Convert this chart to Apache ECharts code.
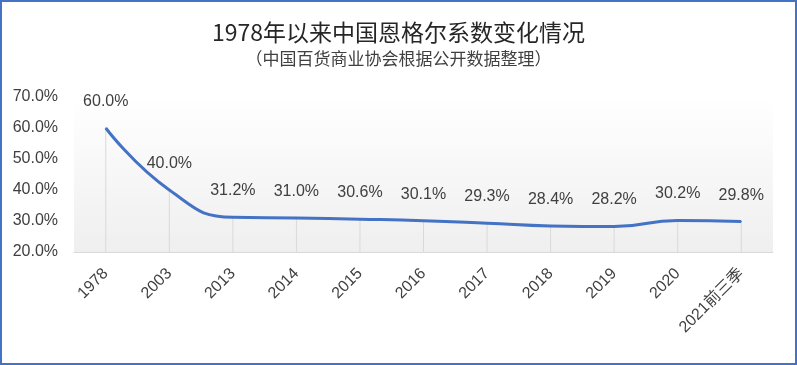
<!DOCTYPE html>
<html><head><meta charset="utf-8">
<script src="https://cdn.jsdelivr.net/npm/echarts@6/dist/echarts.min.js"></script>
<style>html,body{margin:0;padding:0;background:#fff}#c{width:797px;height:365px}</style>
</head><body><div id="c"></div>
<script>
const categories = ['1978','2003','2013','2014','2015','2016','2017','2018','2019','2020','2021前三季'];
const values = [0.600,0.400,0.312,0.310,0.306,0.301,0.293,0.284,0.282,0.302,0.298];
const titleText = '1978年以来中国恩格尔系数变化情况';
const subtitleText = '（中国百货商业协会根据公开数据整理）';
const yMin = 0.2, yMax = 0.7, yStep = 0.1;

const FONT = '"Liberation Sans","Noto Sans CJK SC",sans-serif';
const chart = echarts.init(document.getElementById('c'), null, {renderer:'canvas'});
chart.setOption({
  backgroundColor:'#fff',
  animation:false,
  title:{
    text:titleText, subtext:subtitleText, left:'center', top:16, itemGap:6,
    textStyle:{fontFamily:'"Noto Sans CJK SC",sans-serif', fontSize:23, fontWeight:'normal', color:'#262626'},
    subtextStyle:{fontFamily:'"Noto Sans CJK SC",sans-serif', fontSize:17, color:'#404040'}
  },
  graphic:[{type:'rect', shape:{x:1,y:1,width:795,height:363}, style:{fill:null, stroke:'#4472C4', lineWidth:2}, silent:true, z:100}],
  grid:{left:74, right:24, top:97, bottom:113, show:true, borderWidth:0,
    backgroundColor:new echarts.graphic.LinearGradient(0,0,0,1,[{offset:0,color:'#ffffff'},{offset:1,color:'#efefef'}])},
  xAxis:{
    type:'category', data:categories, boundaryGap:true,
    axisLine:{lineStyle:{color:'#d9d9d9', width:1}},
    axisTick:{show:false},
    axisLabel:{rotate:45, fontFamily:FONT, fontSize:16, color:'#404040', margin:19, interval:0}
  },
  yAxis:{
    type:'value', min:yMin, max:yMax, interval:yStep,
    axisLine:{show:false}, axisTick:{show:false}, splitLine:{show:false},
    axisLabel:{fontFamily:FONT, fontSize:16, color:'#404040', margin:16,
      formatter:v=>(v*100).toFixed(1)+'%'}
  },
  series:[
    {type:'bar', data:values, barWidth:1, itemStyle:{color:'#d9d9d9'}, silent:true, z:1, clip:true},
    {type:'line', data:values, smooth:0.5, showSymbol:true, symbol:'circle', symbolSize:1, z:3,
      itemStyle:{color:'#4472C4'},
      lineStyle:{color:'#4472C4', width:3},
      label:{show:true, position:'top', distance:18, fontFamily:FONT, fontSize:16, color:'#404040',
        formatter:p=>(p.value*100).toFixed(1)+'%'}}
  ]
});
</script></body></html>
